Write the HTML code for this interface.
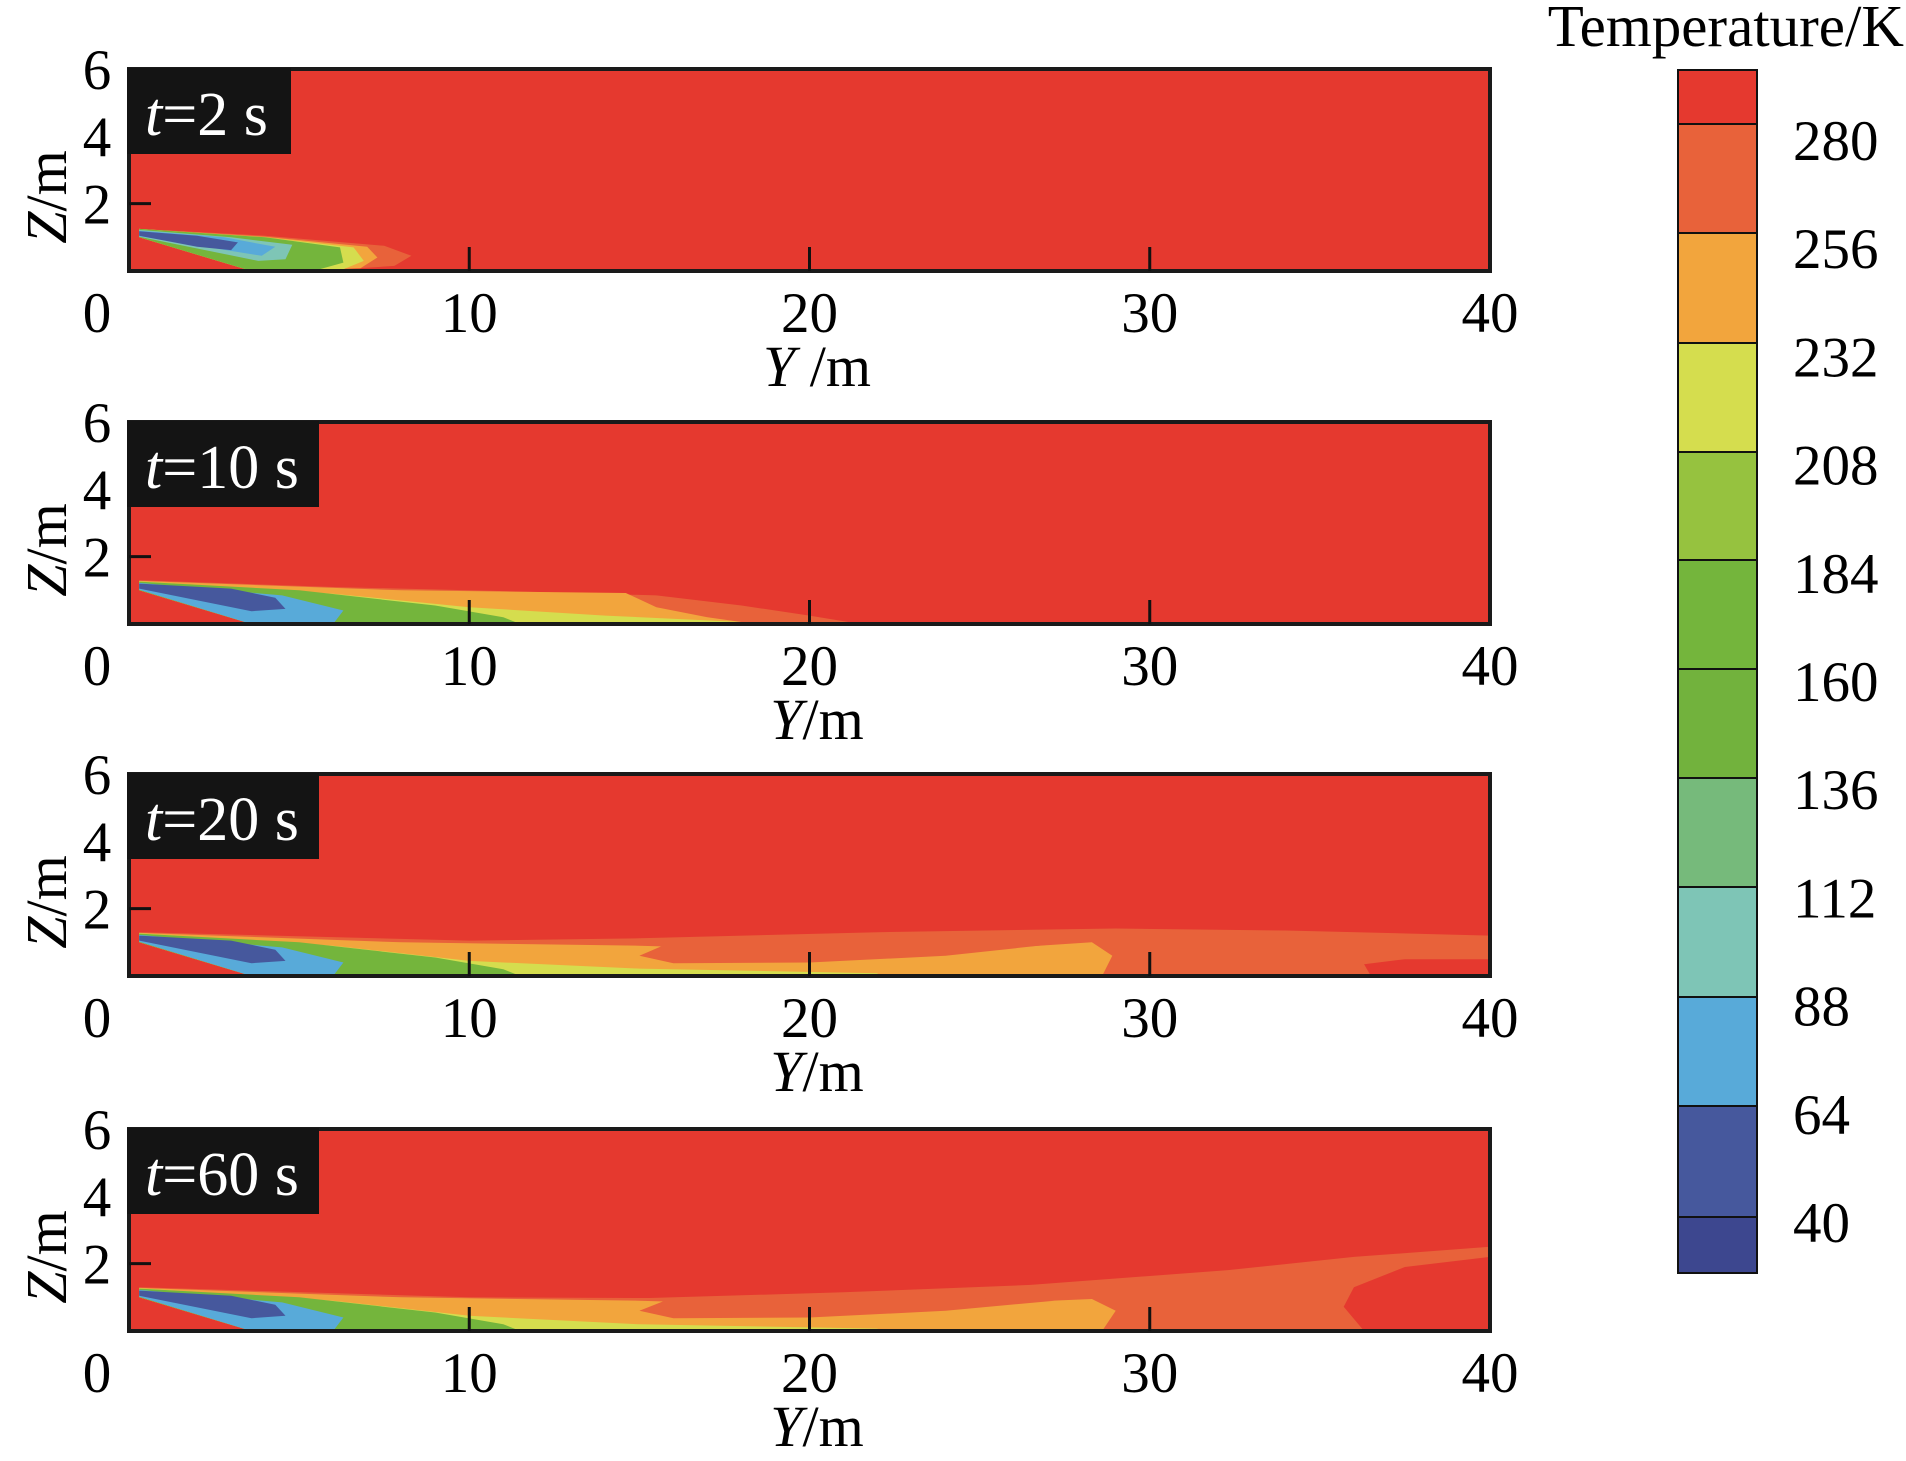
<!DOCTYPE html>
<html><head><meta charset="utf-8"><style>
body{margin:0;background:#fff;}
svg{display:block;font-family:"Liberation Serif",serif;}
</style></head><body>
<svg id="chart" width="1906" height="1461" viewBox="0 0 1906 1461" xmlns="http://www.w3.org/2000/svg"></svg>
<script>
const timeLabels = ["2", "10", "20", "60"];
const xTicks = [10, 20, 30, 40];
const yTicks = [2, 4, 6];
const levelLabels = [280, 256, 232, 208, 184, 160, 136, 112, 88, 64, 40];
const levelColors = ["#e5392f","#e8623a","#f2a53d","#d5dd4e","#96c23f","#74b53c","#72b23d","#76ba7b","#7ec5b6","#58aad9","#46589d","#3d478f"];
// contour band polygons per panel: [colorIndex, [[Y,Z],...]]
const bands2s = [
 [1, [[0.3,1.25],[4,1.05],[7.5,0.75],[8.3,0.45],[7.8,0.15],[6,0.03],[3.6,0],[0.3,1.0]]],
 [2, [[0.3,1.25],[4,1.02],[7,0.72],[7.3,0.4],[6.8,0.08],[3.6,0],[0.3,1.0]]],
 [3, [[0.3,1.25],[4,1.0],[6.6,0.7],[6.9,0.3],[6.3,0.05],[3.6,0],[0.3,1.0]]],
 [5, [[0.3,1.25],[4,1.0],[6.2,0.7],[6.3,0.25],[5.6,0.05],[3.6,0],[0.3,1.0]]],
 [8, [[0.3,1.22],[3,1.0],[4.8,0.78],[4.6,0.35],[3.8,0.3],[0.3,1.02]]],
 [9, [[0.3,1.2],[2.8,1.0],[4.3,0.72],[3.9,0.45],[0.3,1.03]]],
 [10,[[0.3,1.18],[2,1.05],[3.2,0.85],[3,0.62],[2,0.72],[0.3,1.05]]]
];
const bands10s = [
 [1, [[0.3,1.3],[6,1.1],[12,0.95],[15.5,0.85],[18,0.55],[20,0.25],[21.5,0],[3.6,0],[0.3,1.0]]],
 [2, [[0.3,1.28],[8,1.0],[14.6,0.92],[15.5,0.5],[17,0.2],[18.2,0.03],[3.6,0],[0.3,1.0]]],
 [3, [[0.3,1.27],[6,0.9],[10,0.5],[14,0.25],[18,0.06],[18,0],[3.6,0],[0.3,1.0]]],
 [5, [[0.3,1.26],[5,1.0],[9,0.55],[11,0.2],[11.5,0],[3.6,0],[0.3,1.0]]],
 [9, [[0.3,1.22],[4.5,0.85],[6.3,0.4],[6,0],[3.6,0],[0.3,1.02]]],
 [10,[[0.3,1.2],[3,1.05],[4.3,0.78],[4.6,0.45],[3.6,0.38],[0.3,1.05]]]
];
const bands20s = [
 [1, [[0.3,1.3],[10,1.05],[15,1.12],[22,1.3],[29,1.41],[34,1.35],[40,1.2],[40,0.5],[37.5,0.5],[36.3,0.35],[36.5,0],[3.6,0],[0.3,1.0]]],
 [2, [[0.3,1.28],[8,1.0],[15,0.9],[20,0.75],[26,0.85],[28.3,1.0],[28.9,0.6],[28.6,0],[3.6,0],[0.3,1.0]]],
 [1, [[15,0.6],[15.8,0.95],[20,1.05],[24,1.05],[27.2,0.95],[24,0.6],[20,0.4],[16,0.38]]],
 [3, [[0.3,1.27],[6,0.9],[10,0.45],[15,0.22],[22,0.08],[22,0],[3.6,0],[0.3,1.0]]],
 [5, [[0.3,1.26],[5,1.0],[9,0.55],[11,0.2],[11.5,0],[3.6,0],[0.3,1.0]]],
 [9, [[0.3,1.22],[4.5,0.85],[6.3,0.4],[6,0],[3.6,0],[0.3,1.02]]],
 [10,[[0.3,1.2],[3,1.05],[4.3,0.78],[4.6,0.45],[3.6,0.38],[0.3,1.05]]]
];
const bands60s = [
 [1, [[0.3,1.3],[10,1.0],[15.3,0.98],[21,1.15],[26.5,1.37],[32.3,1.81],[36,2.2],[40,2.5],[40,2.2],[37.5,1.9],[36,1.3],[35.7,0.72],[36.3,0],[3.6,0],[0.3,1.0]]],
 [2, [[0.3,1.28],[8,1.0],[15,0.9],[20,0.75],[26,0.85],[28.3,0.95],[29,0.6],[28.6,0],[3.6,0],[0.3,1.0]]],
 [1, [[15,0.6],[15.8,0.92],[20,1.0],[24,1.0],[27.2,0.9],[24,0.6],[20,0.4],[16,0.38]]],
 [3, [[0.3,1.27],[6,0.9],[10,0.45],[15,0.2],[22,0.07],[22,0],[3.6,0],[0.3,1.0]]],
 [5, [[0.3,1.26],[5,1.0],[9,0.55],[11,0.2],[11.5,0],[3.6,0],[0.3,1.0]]],
 [9, [[0.3,1.22],[4.5,0.85],[6.3,0.4],[6,0],[3.6,0],[0.3,1.02]]],
 [10,[[0.3,1.2],[3,1.05],[4.3,0.78],[4.6,0.45],[3.6,0.38],[0.3,1.05]]]
];
const panelBands = [bands2s, bands10s, bands20s, bands60s];

const NS = "http://www.w3.org/2000/svg";
const svg = document.getElementById("chart");
function mk(tag, attrs, parent){const e=document.createElementNS(NS,tag);for(const k in attrs)e.setAttribute(k,attrs[k]);(parent||svg).appendChild(e);return e;}
const X0=129, X1=1490, PH=202;
const panelTops=[69,422,774,1129];
const boxW=[164,192,192,192];
function sx(v){return X0+(v/40)*(X1-X0);}

panelTops.forEach((top,pi)=>{
  const bot=top+PH;
  const sy=z=>bot-(z/6)*PH;
  const g=mk("g",{});
  
  
  const bg=mk("rect",{x:X0,y:top,width:X1-X0,height:PH,fill:levelColors[0]},g);
  
  
  panelBands[pi].forEach((b,bi)=>{
    const pts=b[1].map(p=>sx(p[0]).toFixed(1)+","+sy(p[1]).toFixed(1)).join(" ");
    const poly=mk("polygon",{points:pts,fill:levelColors[b[0]],"stroke-linejoin":"round"},g);
    
    
  });
  const fr=mk("rect",{x:X0,y:top,width:X1-X0,height:PH,fill:"none",stroke:"#1a1a1a","stroke-width":4},g);
  
  
  xTicks.slice(0,3).forEach(v=>{
    const t=mk("line",{x1:sx(v),x2:sx(v),y1:bot,y2:bot-24,stroke:"#111","stroke-width":3},g);
    
    
  });
  const zt=mk("line",{x1:X0,x2:X0+22,y1:sy(2),y2:sy(2),stroke:"#111","stroke-width":3},g);
  
  
  const z0=mk("text",{x:97,y:bot+61,"font-size":57,"text-anchor":"middle"},g); z0.textContent="0";
  
  
  xTicks.forEach(v=>{
    const t=mk("text",{x:sx(v),y:bot+61,"font-size":57,"text-anchor":"middle"},g); t.textContent=v;
    
    
  });
  yTicks.forEach(v=>{
    const t=mk("text",{x:97,y:sy(v)+20,"font-size":57,"text-anchor":"middle"},g); t.textContent=v;
    
    
  });
  const yl=mk("text",{x:0,y:0,"font-size":58,"text-anchor":"middle",transform:`translate(66,${top+128}) rotate(-90)`},g);
  yl.innerHTML='<tspan font-style="italic">Z</tspan>/m';
  
  
  const xl=mk("text",{x:817,y:bot+115,"font-size":58,"text-anchor":"middle"},g);
  xl.innerHTML=pi===0?'<tspan font-style="italic">Y</tspan> /m':'<tspan font-style="italic">Y</tspan>/m';
  
  
  const box=mk("rect",{x:X0-2,y:top-1,width:boxW[pi],height:86,fill:"#141414"},g);
  
  
  const tl=mk("text",{x:X0+16,y:top+66,"font-size":62,fill:"#fff"},g);
  tl.innerHTML='<tspan font-style="italic">t</tspan>='+timeLabels[pi]+' s';
  
  
});

const cb=mk("g",{});


const CX=1678, CW=79, CT=70, CB=1273;
const bounds=[CT,124,233,343,452,560,669,778,887,997,1106,1217,CB];
levelColors.forEach((c,i)=>{
  const r=mk("rect",{x:CX,y:bounds[i],width:CW,height:bounds[i+1]-bounds[i],fill:c,stroke:"#111","stroke-width":2},cb);
  
  
});
levelLabels.forEach((v,i)=>{
  const t=mk("text",{x:1793,y:140+i*108.2+20,"font-size":57},cb); t.textContent=v;
  
  
});
const ct=mk("text",{x:1904,y:46,"font-size":59,"text-anchor":"end"},cb); ct.textContent="Temperature/K";


</script>
</body></html>
